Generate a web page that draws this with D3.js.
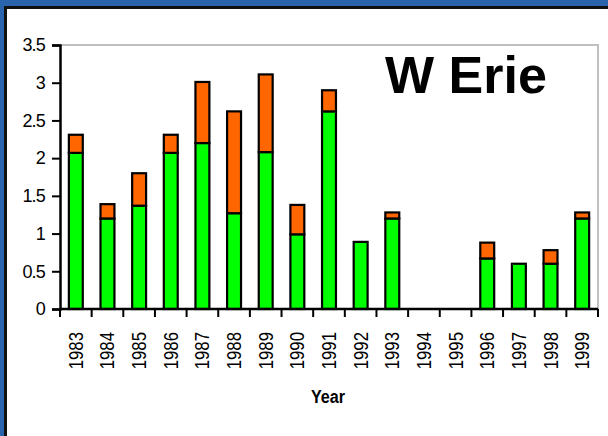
<!DOCTYPE html>
<html>
<head>
<meta charset="utf-8">
<script src="https://cdn.jsdelivr.net/npm/d3@7"></script>
<style>
  html, body { margin: 0; padding: 0; background: #fff; }
  svg { display: block; }
  text { font-family: "Liberation Sans", Arial, sans-serif; }
</style>
</head>
<body>
<svg id="chart" width="608" height="436"></svg>
<script>
const years = ["1983","1984","1985","1986","1987","1988","1989","1990","1991","1992","1993","1994","1995","1996","1997","1998","1999"];
const greenValues  = [2.07, 1.2, 1.37, 2.07, 2.2, 1.27, 2.08, 0.99, 2.62, 0.89, 1.2, 0, 0, 0.67, 0.6, 0.6, 1.2];
const orangeValues = [0.24, 0.19, 0.43, 0.24, 0.81, 1.35, 1.03, 0.39, 0.28, 0, 0.08, 0, 0, 0.21, 0, 0.18, 0.08];
const yTicks = [0, 0.5, 1, 1.5, 2, 2.5, 3, 3.5];
const titleText = "W Erie";
const xTitle = "Year";
const seriesKeys = ["green", "orange"];
const seriesColors = ["#00ff00", "#ff6600"];

(function () {
const svg = d3.select("#chart");
const W = 608, H = 436;

// frame
svg.append("rect").attr("x", 0).attr("y", 0).attr("width", W).attr("height", H).attr("fill", "#2a64ac");
svg.append("rect").attr("x", 4).attr("y", 6).attr("width", W).attr("height", H).attr("fill", "#111");
svg.append("rect").attr("x", 7).attr("y", 9).attr("width", W).attr("height", H).attr("fill", "#fff");

const pLeft = 60, pRight = 598, pTop = 45, pBottom = 309;

const x = d3.scaleBand().domain(years).range([pLeft, pRight]).paddingInner(0.56).paddingOuter(0.28);
const y = d3.scaleLinear().domain([0, 3.5]).range([pBottom, pTop]);

// plot area border (top & right, grey)
svg.append("path")
  .attr("d", `M${pLeft},${y(3.5)}H${pRight}V${pBottom}`)
  .attr("fill", "none").attr("stroke", "#c0c0c0").attr("stroke-width", 2);

// stacked data
const table = years.map((yr, i) => ({ year: yr, green: greenValues[i], orange: orangeValues[i] }));
const stack = d3.stack().keys(seriesKeys)(table);

svg.append("g").selectAll("g").data(stack).join("g")
  .attr("fill", (d, i) => seriesColors[i])
  .selectAll("rect")
  .data(d => d.filter(p => p[1] - p[0] > 0))
  .join("rect")
  .attr("x", d => x(d.data.year))
  .attr("width", x.bandwidth())
  .attr("y", d => y(d[1]))
  .attr("height", d => y(d[0]) - y(d[1]))
  .attr("stroke", "#000")
  .attr("stroke-width", 2.2);

// y axis
const yAxis = svg.append("g").attr("transform", `translate(${pLeft},0)`)
  .call(d3.axisLeft(y).tickValues(yTicks).tickFormat(d3.format("")).tickSize(8).tickPadding(7));
yAxis.select(".domain").attr("stroke", "#000").attr("stroke-width", 2.5);
yAxis.selectAll(".tick line").attr("stroke", "#000").attr("stroke-width", 2);
yAxis.selectAll(".tick text")
  .attr("font-size", 18)
  .attr("fill", "#000")
  .style("letter-spacing", "-0.8px");

// x axis line and ticks at band boundaries
const boundaries = years.map(yr => x(yr) - x.step() * x.paddingInner() / 2);
boundaries.push(pRight);
svg.append("line").attr("x1", pLeft).attr("x2", pRight).attr("y1", pBottom).attr("y2", pBottom)
  .attr("stroke", "#000").attr("stroke-width", 2.5);
svg.append("g").selectAll("line").data(boundaries).join("line")
  .attr("x1", d => d).attr("x2", d => d)
  .attr("y1", pBottom).attr("y2", pBottom + 8)
  .attr("stroke", "#000").attr("stroke-width", 2);

// x labels rotated
svg.append("g").selectAll("text").data(years).join("text")
  .attr("transform", d => `translate(${x(d) + x.bandwidth() / 2 + 7},${pBottom + 23}) rotate(-90) scale(0.84,1)`)
  .attr("text-anchor", "end")
  .attr("font-size", 20)
  .attr("fill", "#000")
  .text(d => d);

// x title
svg.append("text")
  .attr("transform", `translate(328,403) scale(0.85,1)`)
  .attr("text-anchor", "middle")
  .attr("font-size", 19)
  .attr("font-weight", "bold")
  .attr("fill", "#000")
  .text(xTitle);

// chart title
svg.append("text")
  .attr("x", 385).attr("y", 93)
  .attr("font-size", 52)
  .attr("font-weight", "bold")
  .attr("fill", "#000")
  .text(titleText);
})();
</script>
</body>
</html>
